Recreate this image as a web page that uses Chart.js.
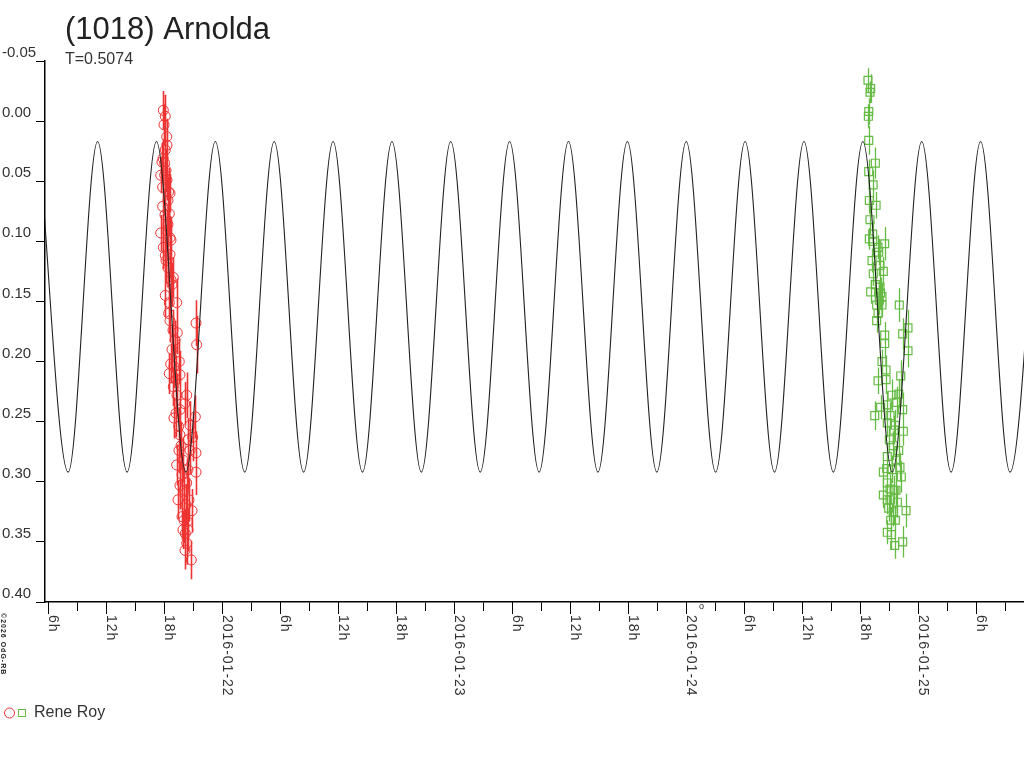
<!DOCTYPE html>
<html><head><meta charset="utf-8">
<script src="https://cdn.jsdelivr.net/npm/chart.js@4.4.1/dist/chart.umd.min.js"></script>
<style>html,body{margin:0;padding:0;background:#fff;} canvas{display:block;}</style>
</head><body>
<canvas id="c" width="1024" height="768" style="width:1024px;height:768px"></canvas>
<script>
const titleText = '(1018) Arnolda';
const subtitleText = 'T=0.5074';
const seriesName = 'Rene Roy';
const copyrightText = '\u00A92026 OdG-RB';

// x axis: hours since 2016-01-21 00:00
const xMin = 5.66;
const xMax = 106.93;
const xTickHours = [6,9,12,15,18,21,24,27,30,33,36,39,42,45,48,51,54,57,60,63,66,69,72,75,78,81,84,87,90,93,96,99,102,105];
const xLabelHours = [6,12,18,24,30,36,42,48,54,60,66,72,78,84,90,96,102];
const xLabelTexts = ['6h','12h','18h','2016-01-22','6h','12h','18h','2016-01-23','6h','12h','18h','2016-01-24','6h','12h','18h','2016-01-25','6h'];

// y axis (magnitude, reversed)
const yMin = -0.05;
const yMax = 0.40;
const yStep = 0.05;

// model light curve: extrema
const modelHours = [5.01,8.06,11.10,14.15,17.19,20.23,23.28,26.32,29.37,32.41,35.46,38.50,41.55,44.59,47.63,50.68,53.72,56.77,59.81,62.86,65.90,68.95,71.99,75.03,78.08,81.12,84.17,87.21,90.26,93.30,96.35,99.39,102.44,105.48,108.53];
const modelMags = [0.017,0.292,0.017,0.292,0.017,0.292,0.017,0.292,0.017,0.292,0.017,0.292,0.017,0.292,0.017,0.292,0.017,0.292,0.017,0.292,0.017,0.292,0.017,0.292,0.017,0.292,0.017,0.292,0.017,0.292,0.017,0.292,0.017,0.292,0.017];

// session 1 (red circles)
const redHours = [17.90,18.10,18.25,18.10,18.04,17.76,18.04,17.63,17.83,18.45,18.59,17.83,18.52,17.63,18.25,17.90,18.59,18.10,18.18,18.93,18.10,18.52,19.28,18.45,21.28,19.34,21.35,18.66,19.55,19.00,18.52,19.62,18.93,20.32,20.11,19.00,19.21,21.21,19.49,19.62,20.94,21.28,19.28,21.28,20.32,19.42,20.87,19.83,20.38,20.17,20.32,20.79,18.28,18.69,18.80,19.11,19.73,19.93,20.04,20.45,20.66,20.55,19.93,
  17.97,18.28,17.87,18.18,18.38,18.07,18.38,18.59,18.38,18.69,18.59,18.90,18.80,19.21,19.31,19.62,19.52,19.83,19.62,20.24,20.04,20.45,20.14,20.66,20.45];
const redMags = [-0.009,-0.004,0.013,0.024,0.035,0.034,0.045,0.045,0.055,0.059,0.060,0.071,0.077,0.093,0.091,0.105,0.111,0.112,0.116,0.130,0.145,0.151,0.151,0.160,0.168,0.176,0.186,0.202,0.200,0.204,0.210,0.211,0.221,0.228,0.235,0.247,0.243,0.246,0.254,0.261,0.263,0.276,0.286,0.292,0.301,0.315,0.324,0.329,0.333,0.343,0.351,0.365,0.049,0.099,0.136,0.182,0.270,0.282,0.307,0.290,0.274,0.315,0.340,
  0.003,0.020,0.031,0.041,0.066,0.078,0.086,0.097,0.122,0.132,0.166,0.174,0.190,0.215,0.228,0.240,0.274,0.294,0.303,0.319,0.332,0.340,0.357,0.253,0.265];
const redErrs = [0.016,0.018,0.015,0.017,0.019,0.016,0.018,0.015,0.017,0.020,0.016,0.018,0.019,0.015,0.017,0.018,0.020,0.016,0.019,0.017,0.018,0.016,0.020,0.017,0.019,0.018,0.024,0.016,0.019,0.018,0.017,0.020,0.016,0.019,0.018,0.017,0.020,0.018,0.016,0.019,0.020,0.018,0.017,0.019,0.020,0.016,0.018,0.019,0.017,0.020,0.018,0.016,0.017,0.019,0.018,0.016,0.020,0.018,0.019,0.017,0.020,0.018,0.016,
  0.017,0.019,0.016,0.018,0.020,0.017,0.019,0.018,0.016,0.020,0.018,0.017,0.019,0.020,0.018,0.016,0.019,0.018,0.020,0.017,0.019,0.018,0.016,0.020,0.018];

// session 2 (green squares)
const greenHours = [90.79,91.07,91.00,90.87,90.83,90.87,91.55,90.87,90.93,91.00,90.93,91.28,91.28,92.52,91.83,91.90,92.03,92.38,91.34,91.55,92.03,91.07,92.10,92.24,91.96,92.24,94.03,91.69,91.83,91.69,94.93,94.38,92.52,92.52,94.93,92.24,92.66,94.18,91.83,93.97,93.76,92.79,92.10,94.38,91.49,93.07,92.79,93.62,94.45,93.00,93.41,93.97,92.79,94.10,92.38,92.73,94.24,92.79,93.07,93.69,92.38,92.79,93.83,92.93,94.73,93.41,93.14,93.62,92.79,93.21,94.38,93.55,91.32,91.63,91.21,92.66,93.28,93.49,93.28,93.69,93.07,93.49];
const greenMags = [-0.034,-0.027,-0.024,-0.008,-0.004,0.016,0.035,0.042,0.066,0.082,0.098,0.094,0.100,0.102,0.105,0.109,0.120,0.125,0.127,0.136,0.138,0.142,0.143,0.146,0.149,0.153,0.153,0.153,0.160,0.166,0.172,0.177,0.178,0.185,0.191,0.200,0.207,0.212,0.216,0.227,0.234,0.236,0.238,0.240,0.245,0.245,0.251,0.253,0.258,0.265,0.270,0.274,0.279,0.288,0.292,0.289,0.296,0.301,0.306,0.307,0.311,0.315,0.317,0.322,0.324,0.325,0.332,0.332,0.342,0.344,0.350,0.353,0.053,0.070,0.116,0.215,0.228,0.257,0.290,0.282,0.315,0.307];
const greenErrs = [0.010,0.012,0.009,0.011,0.010,0.012,0.013,0.010,0.011,0.012,0.009,0.011,0.012,0.014,0.010,0.011,0.013,0.012,0.010,0.011,0.012,0.010,0.013,0.011,0.012,0.010,0.014,0.011,0.012,0.010,0.015,0.013,0.011,0.012,0.014,0.010,0.012,0.013,0.011,0.012,0.013,0.011,0.010,0.014,0.012,0.011,0.012,0.013,0.012,0.011,0.012,0.013,0.011,0.012,0.010,0.012,0.013,0.011,0.012,0.013,0.011,0.012,0.013,0.011,0.014,0.012,0.011,0.012,0.010,0.012,0.013,0.011,0.012,0.011,0.010,0.012,0.013,0.012,0.011,0.012,0.013,0.012];

const RED = '#ee3333';
const GREEN = '#66bb44';
const INK = '#222222';
const TEXT = '#333333';
const FONT = '"Liberation Sans", Arial, sans-serif';

function pts(xs, ys) { return xs.map((v, i) => ({ x: v, y: ys[i] })); }

// legend icon: circle + square
const legendIcon = document.createElement('canvas');
legendIcon.width = 24; legendIcon.height = 14;
(function () {
  const lc = legendIcon.getContext('2d');
  lc.lineWidth = 1;
  lc.strokeStyle = RED;
  lc.beginPath(); lc.arc(7.5, 7, 5, 0, Math.PI * 2); lc.stroke();
  lc.strokeStyle = GREEN;
  lc.strokeRect(16.5, 3.5, 7, 7);
})();

const errorBars = {
  id: 'errorBars',
  beforeDatasetsDraw(chart) {
    const { ctx, chartArea, scales } = chart;
    const x = scales.x, y = scales.y;
    ctx.save();
    ctx.beginPath();
    ctx.rect(chartArea.left, chartArea.top, chartArea.right - chartArea.left, chartArea.bottom - chartArea.top);
    ctx.clip();
    chart.data.datasets.forEach(ds => {
      if (!ds.errors) return;
      ctx.strokeStyle = ds.borderColor;
      ctx.lineWidth = ds.errorWidth;
      ctx.beginPath();
      ds.data.forEach((p, i) => {
        const px = Math.round(x.getPixelForValue(p.x)) + 0.5;
        ctx.moveTo(px, y.getPixelForValue(p.y - ds.errors[i]));
        ctx.lineTo(px, y.getPixelForValue(p.y + ds.errors[i]));
      });
      ctx.stroke();
    });
    ctx.restore();
  }
};

const decor = {
  id: 'decor',
  afterDraw(chart) {
    const { ctx, chartArea, scales } = chart;
    const x = scales.x;
    ctx.save();
    // title + subtitle
    ctx.fillStyle = INK;
    ctx.textAlign = 'left';
    ctx.textBaseline = 'alphabetic';
    ctx.font = '31px ' + FONT;
    ctx.fillText(titleText, 65, 39);
    ctx.fillStyle = TEXT;
    ctx.font = '16px ' + FONT;
    ctx.fillText(subtitleText, 65, 64);
    // longer ticks at labelled positions
    ctx.strokeStyle = '#000';
    ctx.lineWidth = 1;
    ctx.beginPath();
    xLabelHours.forEach(h => {
      const px = Math.round(x.getPixelForValue(h)) + 0.5;
      ctx.moveTo(px, chartArea.bottom);
      ctx.lineTo(px, chartArea.bottom + 12);
    });
    ctx.stroke();
    // rotated x labels (reading top to bottom)
    ctx.fillStyle = TEXT;
    ctx.font = '14px ' + FONT;
    try { ctx.letterSpacing = '1px'; } catch (e) {}
    xLabelHours.forEach((h, i) => {
      const px = x.getPixelForValue(h);
      ctx.save();
      ctx.translate(px + 0.5, chartArea.bottom + 13);
      ctx.rotate(Math.PI / 2);
      ctx.textAlign = 'left';
      ctx.textBaseline = 'alphabetic';
      ctx.fillText(xLabelTexts[i], 0, 0);
      ctx.restore();
    });
    // copyright (vertical, small)
    ctx.font = 'bold 7px ' + FONT;
    try { ctx.letterSpacing = '1px'; } catch (e) {}
    ctx.fillStyle = INK;
    ctx.save();
    ctx.translate(1, 613);
    ctx.rotate(Math.PI / 2);
    ctx.textAlign = 'left';
    ctx.textBaseline = 'alphabetic';
    ctx.fillText(copyrightText, 0, 0);
    ctx.restore();
    // small marker below axis
    try { ctx.letterSpacing = '0px'; } catch (e) {}
    ctx.font = '9px ' + FONT;
    ctx.textAlign = 'center';
    ctx.textBaseline = 'middle';
    ctx.fillText('o', 701.5, 606.5);
    ctx.restore();
  }
};

new Chart(document.getElementById('c'), {
  type: 'scatter',
  data: {
    datasets: [
      {
        label: 'model', type: 'line',
        data: pts(modelHours, modelMags),
        borderColor: INK, borderWidth: 1.1, pointRadius: 0,
        cubicInterpolationMode: 'monotone', capBezierPoints: false, fill: false
      },
      {
        label: seriesName,
        data: pts(redHours, redMags),
        pointStyle: 'circle', pointRadius: 5, pointBorderWidth: 1,
        borderColor: RED, backgroundColor: 'rgba(0,0,0,0)',
        pointBorderColor: RED, pointBackgroundColor: 'rgba(0,0,0,0)',
        errors: redErrs, errorWidth: 1.6
      },
      {
        label: seriesName + ' (2)',
        data: pts(greenHours, greenMags),
        pointStyle: 'rect', pointRadius: 5.6, pointBorderWidth: 1.2,
        borderColor: GREEN, backgroundColor: 'rgba(0,0,0,0)',
        pointBorderColor: GREEN, pointBackgroundColor: 'rgba(0,0,0,0)',
        errors: greenErrs, errorWidth: 1.3
      }
    ]
  },
  options: {
    responsive: false,
    animation: false,
    events: [],
    layout: { autoPadding: false, padding: { top: 61, left: 2, right: 0, bottom: 37 } },
    plugins: {
      title: { display: false },
      tooltip: { enabled: false },
      legend: {
        display: true, position: 'bottom', align: 'start',
        onClick: null,
        labels: {
          usePointStyle: true, pointStyleWidth: 24, padding: 0,
          color: TEXT, font: { family: FONT, size: 16 },
          generateLabels: () => [{
            text: seriesName, pointStyle: legendIcon,
            fillStyle: 'rgba(0,0,0,0)', strokeStyle: 'rgba(0,0,0,0)',
            lineWidth: 0, hidden: false, datasetIndex: 1, fontColor: TEXT
          }]
        }
      }
    },
    scales: {
      x: {
        type: 'linear', min: xMin, max: xMax,
        afterBuildTicks: s => { s.ticks = xTickHours.map(v => ({ value: v })); },
        afterFit: s => {
          s.height = 768 - 37 - s.chart.legend.height - 602;
          s.paddingLeft = 0; s.paddingRight = 0;
        },
        ticks: { display: false },
        grid: { display: true, drawOnChartArea: false, drawTicks: true, tickLength: 9, color: '#000', lineWidth: 1 },
        border: { display: true, color: '#000', width: 1.5 }
      },
      y: {
        type: 'linear', reverse: true, min: yMin, max: yMax,
        afterFit: s => { s.width = 43; s.paddingLeft = 0; s.paddingRight = 0; },
        ticks: {
          stepSize: yStep, padding: 0, crossAlign: 'far', labelOffset: -8,
          color: TEXT, font: { family: FONT, size: 15 },
          callback: v => Number(v).toFixed(2)
        },
        grid: { display: true, drawOnChartArea: false, drawTicks: true, tickLength: 9, color: '#000', lineWidth: 1 },
        border: { display: true, color: '#000', width: 1.5 }
      }
    }
  },
  plugins: [errorBars, decor]
});
</script>
</body></html>
